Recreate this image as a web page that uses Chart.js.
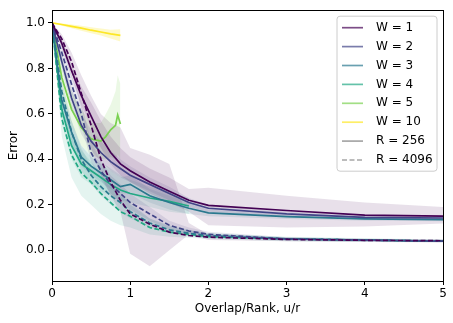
<!DOCTYPE html>
<html><head><meta charset="utf-8">
<script src="https://cdn.jsdelivr.net/npm/chart.js@4"></script>
<style>html,body{margin:0;padding:0;background:#fff}</style>
</head><body>
<canvas id="c" width="453" height="323"></canvas>
<script>
// ---- data ----
const uGrid = [0, 0.125, 0.25, 0.375, 0.5, 0.625, 0.75, 0.875, 1, 1.25, 1.5, 1.75, 2, 3, 4, 5];
const uW5 = [0, 0.125, 0.25, 0.375, 0.5, 0.625, 0.6875, 0.75, 0.8125, 0.84, 0.875];

const w1R256    = [1.0, 0.91, 0.79, 0.68, 0.59, 0.50, 0.43, 0.38, 0.35, 0.30, 0.26, 0.22, 0.198, 0.175, 0.155, 0.150];
const w1R256Lo  = [1.0, 0.89, 0.76, 0.64, 0.54, 0.45, 0.38, 0.33, 0.30, 0.25, 0.21, 0.17, 0.110, 0.100, 0.105, 0.118];
const w1R256Hi  = [1.0, 0.93, 0.82, 0.72, 0.65, 0.57, 0.50, 0.45, 0.41, 0.36, 0.32, 0.27, 0.275, 0.240, 0.210, 0.190];

const w1R4096   = [1.0, 0.93, 0.83, 0.69, 0.55, 0.40, 0.30, 0.22, 0.16, 0.115, 0.08, 0.065, 0.058, 0.048, 0.044, 0.042];
const w1R4096Lo = [1.0, 0.91, 0.79, 0.62, 0.45, 0.33, 0.24, 0.17, -0.015, -0.07, 0.0, 0.07, 0.045, 0.040, 0.037, 0.035];
const w1R4096Hi = [1.0, 0.95, 0.87, 0.77, 0.68, 0.60, 0.56, 0.54, 0.45, 0.42, 0.38, 0.12, 0.070, 0.056, 0.050, 0.048];

const w2R256    = [1.0, 0.83, 0.67, 0.55, 0.48, 0.43, 0.39, 0.36, 0.33, 0.29, 0.25, 0.21, 0.185, 0.160, 0.145, 0.142];
const w2R256Lo  = [1.0, 0.80, 0.63, 0.51, 0.44, 0.39, 0.35, 0.32, 0.30, 0.26, 0.22, 0.19, 0.170, 0.148, 0.135, 0.132];
const w2R256Hi  = [1.0, 0.86, 0.71, 0.60, 0.53, 0.48, 0.44, 0.40, 0.37, 0.32, 0.28, 0.23, 0.200, 0.172, 0.155, 0.152];

const w2R4096   = [1.0, 0.87, 0.73, 0.60, 0.43, 0.35, 0.29, 0.25, 0.21, 0.16, 0.11, 0.085, 0.070, 0.050, 0.045, 0.040];
const w2R4096Lo = [1.0, 0.84, 0.69, 0.55, 0.39, 0.31, 0.25, 0.21, 0.18, 0.13, 0.09, 0.070, 0.058, 0.043, 0.039, 0.035];
const w2R4096Hi = [1.0, 0.90, 0.77, 0.65, 0.48, 0.39, 0.33, 0.29, 0.25, 0.19, 0.13, 0.100, 0.082, 0.057, 0.051, 0.046];

const w3R256    = [1.0, 0.66, 0.52, 0.41, 0.37, 0.34, 0.31, 0.28, 0.29, 0.24, 0.21, 0.185, 0.165, 0.148, 0.138, 0.135];
const w3R256Lo  = [1.0, 0.61, 0.47, 0.37, 0.33, 0.30, 0.27, 0.25, 0.25, 0.21, 0.18, 0.160, 0.150, 0.138, 0.130, 0.128];
const w3R256Hi  = [1.0, 0.71, 0.57, 0.46, 0.41, 0.38, 0.35, 0.32, 0.33, 0.27, 0.24, 0.210, 0.180, 0.158, 0.146, 0.142];

const w3R4096   = [1.0, 0.70, 0.52, 0.40, 0.33, 0.28, 0.24, 0.21, 0.17, 0.12, 0.09, 0.075, 0.065, 0.050, 0.045, 0.040];
const w3R4096Lo = [1.0, 0.65, 0.47, 0.35, 0.29, 0.24, 0.20, 0.17, 0.14, 0.10, 0.075, 0.062, 0.055, 0.043, 0.039, 0.035];
const w3R4096Hi = [1.0, 0.75, 0.57, 0.45, 0.37, 0.32, 0.28, 0.25, 0.20, 0.14, 0.105, 0.088, 0.075, 0.057, 0.051, 0.046];

const w4R256    = [1.0, 0.62, 0.46, 0.38, 0.35, 0.32, 0.29, 0.265, 0.25, 0.23, 0.215, 0.195];
const w4R256Lo  = [1.0, 0.56, 0.40, 0.32, 0.29, 0.26, 0.24, 0.22, 0.21, 0.19, 0.17, 0.16];
const w4R256Hi  = [1.0, 0.70, 0.55, 0.46, 0.42, 0.39, 0.36, 0.33, 0.31, 0.28, 0.26, 0.23];

const w4R4096   = [1.0, 0.58, 0.42, 0.34, 0.30, 0.25, 0.21, 0.17, 0.15, 0.10, 0.08, 0.070, 0.060, 0.050, 0.045, 0.040];
const w4R4096Lo = [1.0, 0.50, 0.32, 0.24, 0.20, 0.16, 0.13, 0.11, 0.10, 0.07, 0.06, 0.055, 0.050, 0.040, 0.037, 0.035];
const w4R4096Hi = [1.0, 0.66, 0.52, 0.44, 0.39, 0.34, 0.29, 0.24, 0.21, 0.14, 0.11, 0.090, 0.075, 0.060, 0.053, 0.047];

const w5R256    = [1.0, 0.76, 0.62, 0.54, 0.49, 0.48, 0.50, 0.53, 0.55, 0.595, 0.555];
const w5R256Lo  = [1.0, 0.70, 0.55, 0.46, 0.42, 0.40, 0.40, 0.41, 0.40, 0.42, 0.40];
const w5R256Hi  = [1.0, 0.82, 0.70, 0.62, 0.56, 0.56, 0.60, 0.64, 0.70, 0.77, 0.73];

const w10R256   = [1.0, 0.993, 0.985, 0.977, 0.968, 0.960, 0.952, 0.945];
const w10R256Lo = [1.0, 0.988, 0.977, 0.966, 0.955, 0.945, 0.932, 0.918];
const w10R256Hi = [1.0, 0.998, 0.993, 0.988, 0.981, 0.975, 0.970, 0.972];

const yTicks = [0.0, 0.2, 0.4, 0.6, 0.8, 1.0];
const xTicks = [0, 1, 2, 3, 4, 5];
const legendLabels = ['W = 1', 'W = 2', 'W = 3', 'W = 4', 'W = 5', 'W = 10', 'R = 256', 'R = 4096'];
const colors = ['#440154', '#414487', '#2a788e', '#22a884', '#7ad151', '#fde725'];
const legendColors = [...colors, '#808080', '#808080'];
const legendDashed = [false, false, false, false, false, false, false, true];

// ---- build datasets ----
function rgba(hex, a) {
  const n = parseInt(hex.slice(1), 16);
  return `rgba(${(n >> 16) & 255},${(n >> 8) & 255},${n & 255},${a})`;
}
function pts(xs, ys) { return ys.map((y, i) => ({ x: xs[i], y })); }
const datasets = [];
function addSeries(xs, mean, lo, hi, color, dashed, alpha) {
  datasets.push({ data: pts(xs, lo), borderWidth: 0, pointRadius: 0, fill: false, order: 10, borderColor: 'rgba(0,0,0,0)' });
  datasets.push({ data: pts(xs, hi), borderWidth: 0, pointRadius: 0, fill: '-1', order: 10,
    borderColor: 'rgba(0,0,0,0)', backgroundColor: rgba(color, alpha) });
  datasets.push({ data: pts(xs, mean), borderColor: color, borderWidth: 1.7, pointRadius: 0, fill: false,
    borderDash: dashed ? [5, 2.5] : [], order: 0, tension: 0 });
}
addSeries(uGrid, w1R256, w1R256Lo, w1R256Hi, colors[0], false, 0.12);
addSeries(uGrid, w1R4096, w1R4096Lo, w1R4096Hi, colors[0], true, 0.12);
addSeries(uGrid, w2R256, w2R256Lo, w2R256Hi, colors[1], false, 0.12);
addSeries(uGrid, w2R4096, w2R4096Lo, w2R4096Hi, colors[1], true, 0.12);
addSeries(uGrid, w3R256, w3R256Lo, w3R256Hi, colors[2], false, 0.12);
addSeries(uGrid, w3R4096, w3R4096Lo, w3R4096Hi, colors[2], true, 0.12);
addSeries(uGrid.slice(0, w4R256.length), w4R256, w4R256Lo, w4R256Hi, colors[3], false, 0.12);
addSeries(uGrid, w4R4096, w4R4096Lo, w4R4096Hi, colors[3], true, 0.12);
addSeries(uW5, w5R256, w5R256Lo, w5R256Hi, colors[4], false, 0.15);
addSeries(uGrid.slice(0, w10R256.length), w10R256, w10R256Lo, w10R256Hi, colors[5], false, 0.25);

const FONT = { family: 'DejaVu Sans', size: 12 };

const framePlugin = {
  id: 'frame',
  afterDatasetsDraw(chart) {
    const { ctx, chartArea: a } = chart;
    ctx.save();
    ctx.strokeStyle = '#000';
    ctx.lineWidth = 1;
    ctx.strokeRect(Math.round(a.left) + 0.5, Math.round(a.top) + 0.5, Math.round(a.right - a.left), Math.round(a.bottom - a.top));
    ctx.restore();
  }
};

const legendPlugin = {
  id: 'customLegend',
  afterDraw(chart) {
    const { ctx, chartArea: a } = chart;
    const x0 = a.right - 106, y0 = a.top + 6, w = 100, h = 155, r = 3;
    ctx.save();
    ctx.beginPath();
    ctx.moveTo(x0 + r, y0);
    ctx.arcTo(x0 + w, y0, x0 + w, y0 + h, r);
    ctx.arcTo(x0 + w, y0 + h, x0, y0 + h, r);
    ctx.arcTo(x0, y0 + h, x0, y0, r);
    ctx.arcTo(x0, y0, x0 + w, y0, r);
    ctx.closePath();
    ctx.fillStyle = 'rgba(255,255,255,0.8)';
    ctx.fill();
    ctx.strokeStyle = '#cccccc';
    ctx.lineWidth = 1;
    ctx.stroke();
    ctx.font = `${FONT.size}px ${FONT.family}`;
    ctx.textBaseline = 'middle';
    legendLabels.forEach((lab, i) => {
      const y = y0 + 11.5 + i * 18.9;
      ctx.beginPath();
      ctx.strokeStyle = rgba(legendColors[i], 0.7);
      ctx.lineWidth = 1.7;
      ctx.setLineDash(legendDashed[i] ? [5, 2.5] : []);
      ctx.moveTo(x0 + 5, y);
      ctx.lineTo(x0 + 26, y);
      ctx.stroke();
      ctx.setLineDash([]);
      ctx.fillStyle = '#000';
      ctx.fillText(lab, x0 + 39, y);
    });
    ctx.restore();
  }
};

new Chart(document.getElementById('c'), {
  type: 'line',
  data: { datasets },
  options: {
    responsive: false,
    animation: false,
    devicePixelRatio: 1,
    layout: { padding: { left: 7, right: 10, top: 7, bottom: 7 } },
    plugins: { legend: { display: false }, tooltip: { enabled: false } },
    scales: {
      x: {
        type: 'linear', min: 0, max: 5,
        afterBuildTicks: s => { s.ticks = xTicks.map(v => ({ value: v })); },
        ticks: { color: '#000', font: FONT, padding: 2, maxRotation: 0, callback: v => String(v) },
        grid: { drawOnChartArea: false, tickLength: 4, color: '#000', tickColor: '#000' },
        border: { color: '#000', width: 1 },
        title: { display: true, text: 'Overlap/Rank, u/r', color: '#000', font: FONT, padding: { top: 2, bottom: 0 } },
        afterFit: s => { s.height = 35; }
      },
      y: {
        type: 'linear', min: -0.135, max: 1.056,
        afterBuildTicks: s => { s.ticks = yTicks.map(v => ({ value: v })); },
        ticks: { color: '#000', font: FONT, padding: 3, callback: v => v.toFixed(1) },
        grid: { drawOnChartArea: false, tickLength: 4, color: '#000', tickColor: '#000' },
        border: { color: '#000', width: 1 },
        title: { display: true, text: 'Error', color: '#000', font: FONT, padding: { top: 0, bottom: 2 } },
        afterFit: s => { s.width = 45; }
      }
    }
  },
  plugins: [framePlugin, legendPlugin]
});
</script>
</body></html>
